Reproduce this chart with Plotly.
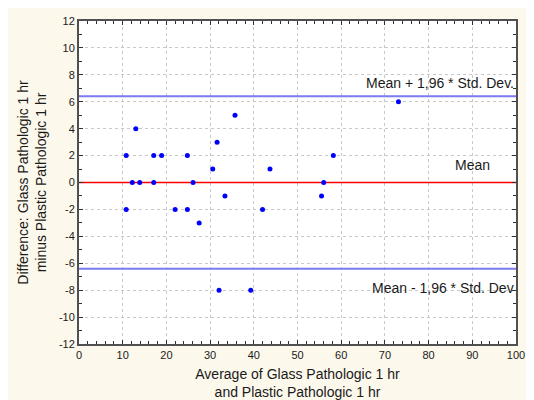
import plotly.graph_objects as go

# Bland-Altman data
avg_vals = [13.0, 10.8, 17.1, 18.9, 24.8, 12.2, 13.9, 17.1, 26.1, 10.8, 22.0, 24.8,
            35.7, 31.6, 30.6, 43.7, 33.4, 42.0, 27.5, 32.05, 39.3, 73.1, 58.2, 56.0, 55.5]
diff_vals = [4, 2, 2, 2, 2, 0, 0, 0, 0, -2, -2, -2,
             5, 3, 1, 1, -1, -2, -3, -8, -8, 6, 2, 0, -1]

mean_diff = 0.0
upper_loa = 6.4
lower_loa = -6.4

x_ticks = [0, 10, 20, 30, 40, 50, 60, 70, 80, 90, 100]
y_ticks = [-12, -10, -8, -6, -4, -2, 0, 2, 4, 6, 8, 10, 12]
y_tick_labels = [str(v) for v in y_ticks]
x_tick_labels = [str(v) for v in x_ticks]

label_upper = "Mean + 1,96 * Std. Dev."
label_mean = "Mean"
label_lower = "Mean - 1,96 * Std. Dev"

FONT = "Liberation Sans, Arial, sans-serif"
CREAM = "#FDF8EC"

fig = go.Figure()

fig.add_trace(go.Scatter(
    x=[0, 100], y=[upper_loa, upper_loa], mode="lines",
    line=dict(color="#7B7BF2", width=2), hoverinfo="skip", showlegend=False))
fig.add_trace(go.Scatter(
    x=[0, 100], y=[lower_loa, lower_loa], mode="lines",
    line=dict(color="#7B7BF2", width=2), hoverinfo="skip", showlegend=False))
fig.add_trace(go.Scatter(
    x=[0, 100], y=[mean_diff, mean_diff], mode="lines",
    line=dict(color="#FF0000", width=1.5), hoverinfo="skip", showlegend=False))

fig.add_trace(go.Scatter(
    x=avg_vals, y=diff_vals, mode="markers",
    marker=dict(color="#0000FF", size=5, symbol="circle"),
    showlegend=False))

axis_common = dict(
    showline=True, linecolor="#505050", linewidth=2, mirror="allticks",
    ticks="inside", ticklen=4, tickwidth=1, tickcolor="#303030",
    showgrid=True, gridcolor="#C8C8C8", gridwidth=1, griddash="dot",
    zeroline=False, automargin=False,
    tickfont=dict(family=FONT, size=11, color="#1a1a1a"),
)

fig.update_xaxes(
    range=[0, 100], tickvals=x_ticks, ticktext=x_tick_labels,
    minor=dict(dtick=2, ticks="inside", ticklen=3, tickcolor="#303030", showgrid=False),
    title=dict(text="Average of Glass Pathologic 1 hr<br>and Plastic Pathologic 1 hr",
               font=dict(family=FONT, size=14, color="#1a1a1a"), standoff=10),
    **axis_common)
fig.update_yaxes(
    range=[-12, 12], tickvals=y_ticks, ticktext=y_tick_labels,
    minor=dict(dtick=1, ticks="inside", ticklen=3, tickcolor="#303030", showgrid=False),
    title=dict(text="Difference: Glass Pathologic 1 hr<br>minus Plastic Pathologic 1 hr",
               font=dict(family=FONT, size=14, color="#1a1a1a"), standoff=9),
    **axis_common)

ann_font = dict(family=FONT, size=14, color="#1a1a1a")
fig.add_annotation(x=100, y=upper_loa, text=label_upper, showarrow=False,
                   xanchor="right", yanchor="middle", yshift=13.5, font=ann_font)
fig.add_annotation(x=90, y=mean_diff, text=label_mean, showarrow=False,
                   xanchor="center", yanchor="middle", yshift=18, font=ann_font)
fig.add_annotation(x=100, y=lower_loa, text=label_lower, showarrow=False,
                   xanchor="right", yanchor="middle", yshift=-19, font=ann_font)

# The page places the figure 8px from the top-left corner (white strip there).
fig.update_layout(
    width=518, height=392,
    margin=dict(l=71, r=10, t=13, b=56, autoexpand=False),
    paper_bgcolor=CREAM, plot_bgcolor="white",
    font=dict(family=FONT, color="#1a1a1a"),
)

fig.write_html("out.html")
